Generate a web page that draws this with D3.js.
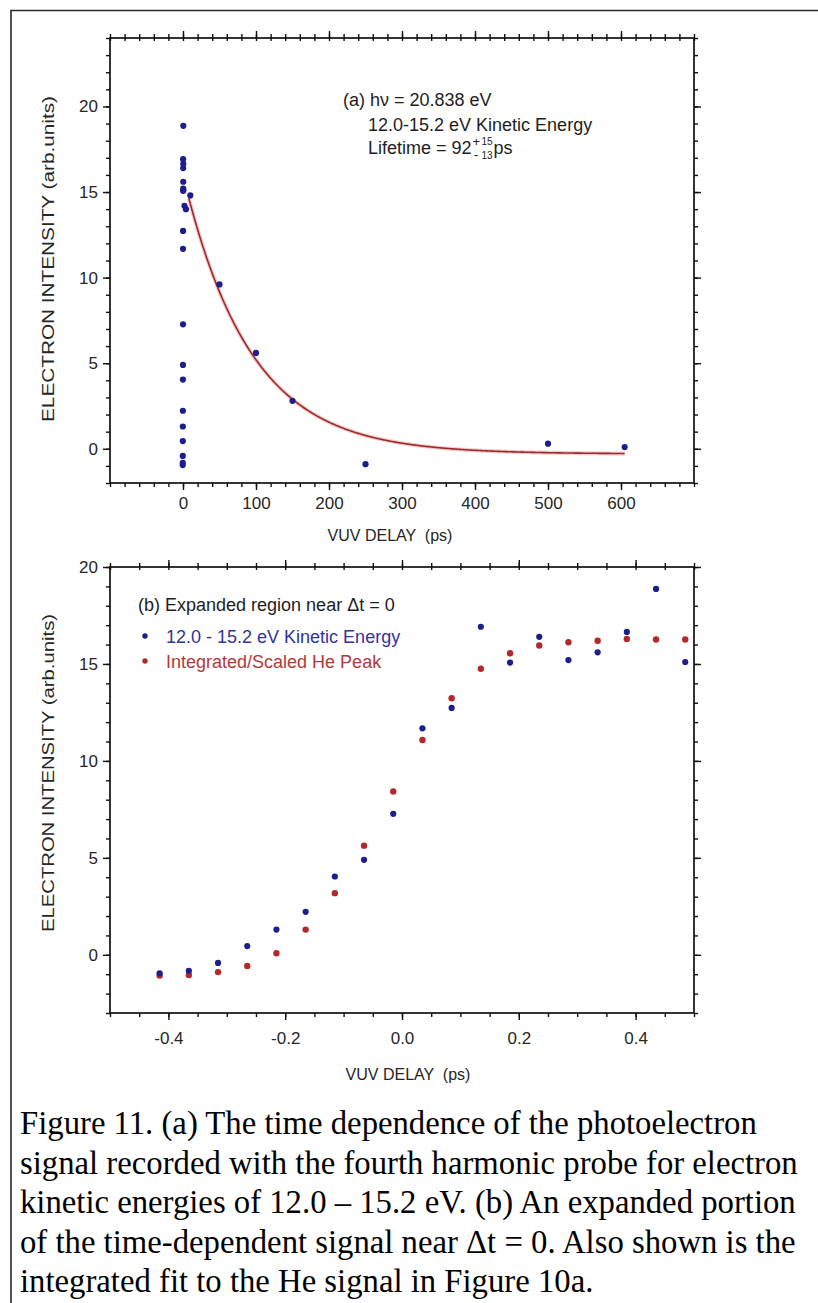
<!DOCTYPE html>
<html>
<head>
<meta charset="utf-8">
<script src="https://cdn.jsdelivr.net/npm/d3@7"></script>
<style>
  html, body { margin: 0; padding: 0; background: #fff; }
  svg { display: block; }
  .tick-label { font-family: "Liberation Sans", Arial, sans-serif; font-size: 17px; fill: #262626; }
  .axis-title { font-family: "Liberation Sans", Arial, sans-serif; font-size: 16px; fill: #262626; }
  .note { font-family: "Liberation Sans", Arial, sans-serif; font-size: 18px; fill: #1e1e1e; }
  .caption { font-family: "Liberation Serif", "Times New Roman", serif; fill: #000; }
</style>
</head>
<body>
<svg id="fig" width="818" height="1303"></svg>
<script>
// ---- Panel (b): signal near zero delay (ps) ----
const nearDelay = [-0.415, -0.365, -0.315, -0.265, -0.215, -0.165, -0.115, -0.065, -0.015,
                   0.035, 0.085, 0.135, 0.185, 0.235, 0.285, 0.335, 0.385, 0.435, 0.485];
const kineticSignal = [-0.95, -0.82, -0.42, 0.45, 1.3, 2.22, 4.04, 4.9, 7.27,
                       11.68, 12.73, 16.92, 15.07, 16.4, 15.2, 15.6, 16.65, 18.87, 15.1];
const heliumSignal = [-1.07, -1.04, -0.89, -0.58, 0.08, 1.3, 3.18, 5.63, 8.42,
                      11.08, 13.23, 14.75, 15.55, 15.95, 16.12, 16.2, 16.29, 16.26, 16.26];

// ---- Panel (a): long-delay points (ps) ----
const longDelay = [2, 4, 10, 50, 100, 150, 250, 500, 605];
const longSignal = [14.2, 14.0, 14.8, 9.6, 5.6, 2.8, -0.9, 0.3, 0.1];

// Exponential fit drawn in panel (a)
const fitLifetime = 92;      // ps
const fitAmplitude = 16.3;
const fitOffset = -0.3;
const fitRange = [8, 605];   // ps

// ---- Tick values and labels ----
const aXMajor = [0, 100, 200, 300, 400, 500, 600];
const aXLabels = ["0", "100", "200", "300", "400", "500", "600"];
const aYMajor = [0, 5, 10, 15, 20];
const bXMajor = [-0.4, -0.2, 0.0, 0.2, 0.4];
const bXLabels = ["-0.4", "-0.2", "0.0", "0.2", "0.4"];
const bYMajor = [0, 5, 10, 15, 20];

const captionLines = [
  "Figure 11. (a) The time dependence of the photoelectron",
  "signal recorded with the fourth harmonic probe for electron",
  "kinetic energies of 12.0 \u2013 15.2 eV. (b) An expanded portion",
  "of the time-dependent signal near \u0394t = 0. Also shown is the",
  "integrated fit to the He signal in Figure 10a."
];

const BLUE = "#1d1d8c";
const RED = "#b3292b";

const svg = d3.select("#fig");

// figure frame (open at the right and bottom)
svg.append("path")
  .attr("d", "M11,1303 V10.5 H818")
  .attr("fill", "none").attr("stroke", "#2a2a2a").attr("stroke-width", 1.6);

const left = 110, right = 694;

function panel(cfg) {
  const g = svg.append("g");
  const x = d3.scaleLinear().domain(cfg.xDomain).range([left, right]);
  const y = d3.scaleLinear().domain(cfg.yDomain).range([cfg.bottom, cfg.top]);

  const xMinor = d3.range(cfg.xDomain[0], cfg.xDomain[1] + cfg.xStep / 2, cfg.xStep);
  const yMinor = d3.range(cfg.yDomain[0], cfg.yDomain[1] + 0.5, 1);

  const tickStroke = (sel) => sel.selectAll("line").attr("stroke", "#111").attr("stroke-width", 1.4);

  // minor ticks on all four sides
  const addMinor = (axis, transform) => {
    const a = g.append("g").attr("transform", transform).call(axis);
    a.select(".domain").remove();
    a.selectAll("text").remove();
    tickStroke(a);
    return a;
  };
  addMinor(d3.axisBottom(x).tickValues(xMinor).tickSize(4), `translate(0,${cfg.bottom})`);
  addMinor(d3.axisTop(x).tickValues(xMinor).tickSize(4), `translate(0,${cfg.top})`);
  addMinor(d3.axisLeft(y).tickValues(yMinor).tickSize(4), `translate(${left},0)`);
  addMinor(d3.axisRight(y).tickValues(yMinor).tickSize(4), `translate(${right},0)`);
  // short inner stubs on the top axis
  addMinor(d3.axisBottom(x).tickValues(xMinor).tickSize(3), `translate(0,${cfg.top})`);

  // major ticks with labels
  const xa = g.append("g").attr("transform", `translate(0,${cfg.bottom})`)
    .call(d3.axisBottom(x).tickValues(cfg.xMajor).tickSize(7).tickPadding(cfg.xPad)
      .tickFormat((d, i) => cfg.xLabels[i]));
  xa.select(".domain").remove();
  tickStroke(xa);
  xa.selectAll("text").attr("class", "tick-label").attr("font-size", null).attr("font-family", null).attr("fill", null);

  const xt = g.append("g").attr("transform", `translate(0,${cfg.top})`)
    .call(d3.axisTop(x).tickValues(cfg.xMajor).tickSize(7).tickFormat(""));
  xt.select(".domain").remove();
  tickStroke(xt);

  const ya = g.append("g").attr("transform", `translate(${left},0)`)
    .call(d3.axisLeft(y).tickValues(cfg.yMajor).tickSize(7).tickPadding(5));
  ya.select(".domain").remove();
  tickStroke(ya);
  ya.selectAll("text").attr("class", "tick-label").attr("font-size", null).attr("font-family", null).attr("fill", null);

  const yr = g.append("g").attr("transform", `translate(${right},0)`)
    .call(d3.axisRight(y).tickValues(cfg.yMajor).tickSize(7).tickFormat(""));
  yr.select(".domain").remove();
  tickStroke(yr);

  // frame
  g.append("rect")
    .attr("x", left).attr("y", cfg.top)
    .attr("width", right - left).attr("height", cfg.bottom - cfg.top)
    .attr("fill", "none").attr("stroke", "#111").attr("stroke-width", 1.7);

  // axis titles
  g.append("text").attr("class", "axis-title")
    .attr("x", cfg.xTitleX).attr("y", cfg.xTitleY)
    .attr("text-anchor", "middle").attr("xml:space", "preserve")
    .text("VUV DELAY  (ps)");
  g.append("text").attr("class", "axis-title")
    .attr("transform", `translate(54,${cfg.yTitleCenter}) rotate(-90)`)
    .attr("text-anchor", "middle")
    .attr("textLength", cfg.yTitleLength).attr("lengthAdjust", "spacingAndGlyphs")
    .text("ELECTRON INTENSITY (arb.units)");

  return { g, x, y };
}

// ---------- Panel (a) ----------
const A = panel({
  xDomain: [-100, 700], yDomain: [-2, 24], top: 38, bottom: 483,
  xStep: 20, xMajor: aXMajor, xLabels: aXLabels, yMajor: aYMajor, xPad: 7,
  xTitleX: 390, xTitleY: 541, yTitleCenter: 259, yTitleLength: 326
});

const fitT = d3.range(fitRange[0], fitRange[1] + 1, 1);
const fitLine = d3.line()
  .x(t => A.x(t))
  .y(t => A.y(fitAmplitude * Math.exp(-t / fitLifetime) + fitOffset));
A.g.append("path").attr("d", fitLine(fitT))
  .attr("fill", "none").attr("stroke", "#e7a3a3").attr("stroke-width", 4).attr("opacity", 0.55);
A.g.append("path").attr("d", fitLine(fitT))
  .attr("fill", "none").attr("stroke", "#9c2a2c").attr("stroke-width", 1.6);

const aPoints = nearDelay.map((d, i) => [d, kineticSignal[i]])
  .concat(longDelay.map((d, i) => [d, longSignal[i]]));
A.g.selectAll("circle.pt").data(aPoints).enter().append("circle")
  .attr("cx", d => A.x(d[0])).attr("cy", d => A.y(d[1]))
  .attr("r", 3.1).attr("fill", BLUE);

// annotation
const note = A.g.append("g").attr("class", "note");
note.append("text").attr("x", 343).attr("y", 106).text("(a) h\u03bd = 20.838 eV");
note.append("text").attr("x", 368).attr("y", 131).text("12.0-15.2 eV Kinetic Energy");
const life = note.append("text").attr("x", 368).attr("y", 154).text("Lifetime = 92");
const lw = life.node().getComputedTextLength();
const sx = 368 + lw + 1;
note.append("text").attr("x", sx).attr("y", 146).attr("font-size", 13).text("+");
note.append("text").attr("x", sx + 1.5).attr("y", 159).attr("font-size", 13).text("-");
note.append("text").attr("x", sx + 9).attr("y", 145).attr("font-size", 10).text("15");
note.append("text").attr("x", sx + 9).attr("y", 159).attr("font-size", 10).text("13");
note.append("text").attr("x", sx + 21).attr("y", 154).text("ps");

// ---------- Panel (b) ----------
const B = panel({
  xDomain: [-0.5, 0.5], yDomain: [-3, 20], top: 567, bottom: 1013,
  xStep: 0.05, xMajor: bXMajor, xLabels: bXLabels, yMajor: bYMajor, xPad: 12,
  xTitleX: 408, xTitleY: 1080, yTitleCenter: 773, yTitleLength: 318
});

B.g.selectAll("circle.he").data(nearDelay).enter().append("circle")
  .attr("cx", d => B.x(d)).attr("cy", (d, i) => B.y(heliumSignal[i]))
  .attr("r", 3.2).attr("fill", RED);
B.g.selectAll("circle.ke").data(nearDelay).enter().append("circle")
  .attr("cx", d => B.x(d)).attr("cy", (d, i) => B.y(kineticSignal[i]))
  .attr("r", 3.1).attr("fill", BLUE);

// legend
const leg = B.g.append("g").attr("class", "note");
leg.append("text").attr("x", 138).attr("y", 611).text("(b) Expanded region near \u0394t = 0");
leg.append("circle").attr("cx", 145).attr("cy", 636).attr("r", 2.7).attr("fill", BLUE);
leg.append("text").attr("x", 166).attr("y", 643).attr("fill", "#33339a").text("12.0 - 15.2 eV Kinetic Energy");
leg.append("circle").attr("cx", 145).attr("cy", 661).attr("r", 2.7).attr("fill", RED);
leg.append("text").attr("x", 166).attr("y", 668).attr("fill", "#b23a3a").text("Integrated/Scaled He Peak");

// ---------- Caption ----------
const cap = svg.append("g");
const capTexts = cap.selectAll("text").data(captionLines).enter().append("text")
  .attr("class", "caption")
  .attr("x", 20)
  .attr("y", (d, i) => 1134 + i * 39.5)
  .attr("font-size", 28)
  .text(d => d);
// size the caption so the longest line spans the text block
const widest = d3.max(capTexts.nodes(), n => n.getComputedTextLength());
capTexts.attr("font-size", 28 * 778 / widest);
</script>
</body>
</html>
